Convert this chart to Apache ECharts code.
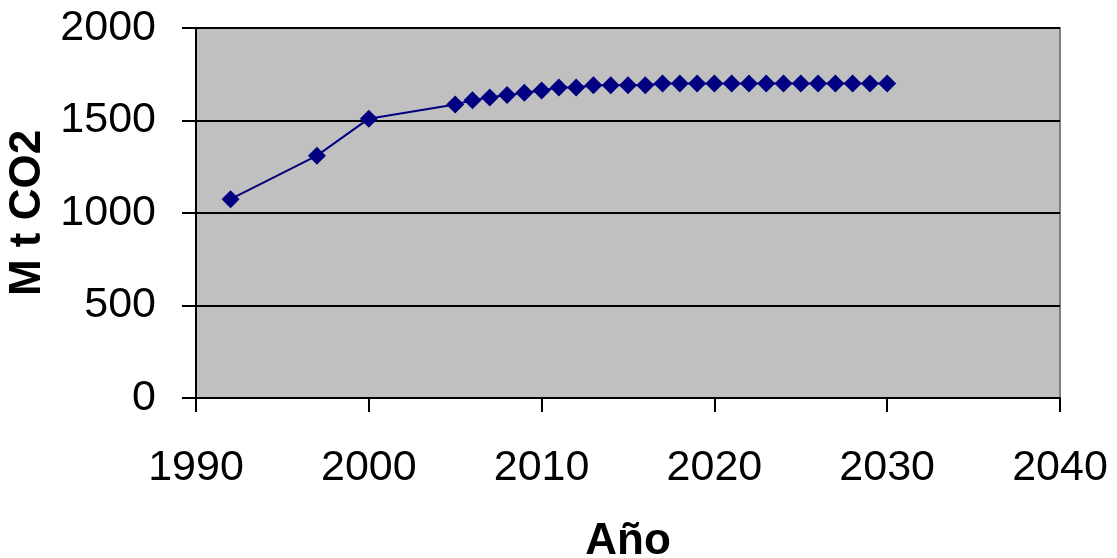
<!DOCTYPE html>
<html>
<head>
<meta charset="utf-8">
<script src="https://cdn.jsdelivr.net/npm/echarts@6/dist/echarts.min.js"></script>
<style>html,body{margin:0;padding:0;background:#fff}#c{width:1117px;height:558px}</style>
</head>
<body>
<div id="c"></div>
<script>
const years = [1992, 1997, 2000, 2005, 2006, 2007, 2008, 2009, 2010, 2011, 2012, 2013, 2014, 2015, 2016, 2017, 2018, 2019, 2020, 2021, 2022, 2023, 2024, 2025, 2026, 2027, 2028, 2029, 2030];
const emissions = [1075, 1310, 1510, 1587, 1610, 1625, 1638, 1650, 1662, 1678, 1678, 1690, 1690, 1690, 1690, 1700, 1700, 1700, 1700, 1700, 1700, 1700, 1700, 1700, 1700, 1700, 1700, 1700, 1700];
const xTitle = 'Año';
const yTitle = 'M t CO2';

const chart = echarts.init(document.getElementById('c'));
const font = 'Liberation Sans, Arial, sans-serif';
chart.setOption({
  animation: false,
  grid: {left: 196, right: 57, top: 28, bottom: 160, containLabel: false, outerBoundsMode: 'none', show: true, backgroundColor: '#C0C0C0', borderColor: '#808080', borderWidth: 2},
  xAxis: {
    type: 'value', min: 1990, max: 2040, interval: 10,
    name: xTitle, nameLocation: 'middle', nameGap: 122,
    nameTextStyle: {fontFamily: font, fontSize: 44, fontWeight: 'bold', color: '#000'},
    axisLine: {show: true, lineStyle: {color: '#000', width: 2}},
    axisTick: {show: true, inside: false, length: 14, lineStyle: {color: '#000', width: 2}},
    axisLabel: {fontFamily: font, fontSize: 43, color: '#000', margin: 49, formatter: v => String(v)},
    splitLine: {show: false}
  },
  yAxis: {
    type: 'value', min: 0, max: 2000, interval: 500,
    name: yTitle, nameLocation: 'middle', nameGap: 164,
    nameTextStyle: {fontFamily: font, fontSize: 44, fontWeight: 'bold', color: '#000', verticalAlign: 'middle'},
    axisLine: {show: true, lineStyle: {color: '#000', width: 2}},
    axisTick: {show: true, inside: false, length: 14, lineStyle: {color: '#000', width: 2}},
    axisLabel: {fontFamily: font, fontSize: 43, color: '#000', margin: 40, formatter: v => String(v)},
    splitLine: {show: true, lineStyle: {color: '#000', width: 2}}
  },
  series: [{
    type: 'line',
    data: years.map((y, i) => [y, emissions[i]]),
    symbol: 'diamond', symbolSize: 18,
    lineStyle: {color: '#000080', width: 2},
    itemStyle: {color: '#000080'}
  }]
});
</script>
</body>
</html>
